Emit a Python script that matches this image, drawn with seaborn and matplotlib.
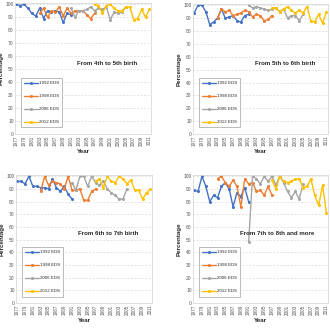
'''
percentage by birth order transition, four EDS surveys
'''

import matplotlib
matplotlib.use('Agg')
import matplotlib.pyplot as plt
import pandas as pd
import seaborn as sns

# years covered by each survey
years_1992 = list(range(1977, 1992))
years_1998 = list(range(1983, 1998))
years_2006 = list(range(1991, 2006))
years_2012 = list(range(1997, 2012))

surveys = ['1992 EDS', '1998 EDS', '2006 EDS', '2012 EDS']
colors = ['#4472C4', '#ED7D31', '#A5A5A5', '#FFC000']

titles = ['From 4th to 5th birth', 'From 5th to 6th birth',
          'From 6th to 7th birth', 'From 7th to 8th and more']

# from 4th to 5th
p1_1992 = [100, 99, 100, 97, 93, 91, 97, 89, 95, 94, 95, 94, 86, 93, 92]
p1_1998 = [93, 97, 90, 95, 94, 98, 91, 97, 93, 95, 95, 95, 92, 89, 93]
p1_2006 = [97, 90, 95, 95, 96, 98, 95, 97, 96, 98, 88, 94, 93, 94, 98]
p1_2012 = [100, 99, 93, 99, 100, 97, 95, 95, 98, 98, 88, 89, 96, 90, 96]

# from 5th to 6th
p2_1992 = [94, 100, 100, 95, 85, 87, 90, 97, 90, 91, 92, 88, 87, 92, 93]
p2_1998 = [90, 97, 95, 96, 92, 93, 94, 96, 95, 91, 93, 92, 88, 89, 92]
p2_2006 = [100, 98, 99, 98, 97, 96, 97, 98, 95, 97, 90, 92, 92, 88, 93]
p2_2012 = [98, 98, 95, 97, 99, 96, 94, 96, 94, 99, 88, 87, 93, 86, 95]

# from 6th to 7th
p3_1992 = [96, 96, 94, 100, 92, 92, 91, 91, 90, 98, 91, 88, 92, 86, 82]
p3_1998 = [88, 100, 93, 96, 95, 94, 90, 100, 89, 89, 90, 81, 81, 88, 90]
p3_2006 = [95, 89, 100, 100, 92, 100, 95, 93, 96, 90, 87, 85, 82, 82, 90]
p3_2012 = [96, 98, 91, 100, 96, 95, 100, 98, 94, 97, 89, 89, 82, 87, 90]

# from 7th to 8th and more
p4_1992 = [89, 88, 100, 92, 80, 85, 83, 92, 95, 90, 76, 87, 84, 91, 80]
p4_1998 = [98, 100, 95, 92, 97, 92, 76, 98, 94, 95, 88, 89, 85, 92, 85]
p4_2006 = [48, 100, 98, 94, 100, 96, 100, 93, 100, 95, 88, 83, 88, 82, 94]
p4_2012 = [97, 90, 100, 96, 95, 96, 98, 98, 91, 92, 98, 85, 77, 93, 71]

panels = [
    [p1_1992, p1_1998, p1_2006, p1_2012],
    [p2_1992, p2_1998, p2_2006, p2_2012],
    [p3_1992, p3_1998, p3_2006, p3_2012],
    [p4_1992, p4_1998, p4_2006, p4_2012],
]
year_lists = [years_1992, years_1998, years_2006, years_2012]

sns.set_style('white')
plt.rcParams['font.family'] = ['Liberation Sans', 'DejaVu Sans']

fig = plt.figure(figsize=(3.3, 3.3), dpi=100)

# axes boxes in pixels: left, top, right, bottom
boxes = [(15, 3, 151, 134), (193, 4, 328, 134),
         (16, 175, 152, 303), (193, 175, 328, 303)]
text_x = [0.68, 0.68, 0.68, 0.62]

for k, vals in enumerate(panels):
    l, t, r, b = boxes[k]
    ax = fig.add_axes([l / 330, 1 - b / 330, (r - l) / 330, (b - t) / 330])

    rows = []
    for s, yrs, v in zip(surveys, year_lists, vals):
        for y, p in zip(yrs, v):
            rows.append({'Year': y, 'Percentage': p, 'Survey': s})
    df = pd.DataFrame(rows)

    sns.lineplot(data=df, x='Year', y='Percentage', hue='Survey',
                 palette=colors, marker='o', markersize=2.2,
                 markeredgewidth=0, linewidth=1.0, ax=ax)

    ax.set_xlim(1976.7, 2011.4)
    ax.set_ylim(0, 101)
    ax.set_yticks(range(0, 101, 10))
    ax.set_xticks(range(1977, 2012, 2))
    ax.set_xticklabels([str(y) for y in range(1977, 2012, 2)],
                       rotation=90, fontsize=3.3, color='#555555')
    ax.tick_params(axis='y', labelsize=3.5, colors='#555555', length=0, pad=1)
    ax.tick_params(axis='x', length=0, pad=1)
    ax.grid(axis='y', linestyle=(0, (3, 2)), color='#d9d9d9', linewidth=0.5)
    for sp in ax.spines.values():
        sp.set_color('#d9d9d9')
        sp.set_linewidth(0.6)

    ax.set_xlabel('Year', fontsize=4.5, fontweight='bold', labelpad=2)
    ax.set_ylabel('Percentage', fontsize=4.5, fontweight='bold', labelpad=1)

    ax.text(text_x[k], 0.54, titles[k], transform=ax.transAxes,
            ha='center', va='center', fontsize=4.4, fontweight='bold')

    leg = ax.legend(loc='lower left', bbox_to_anchor=(0.045, 0.05),
                    fontsize=3.2, labelspacing=2.0, handlelength=3.0,
                    borderpad=0.7, handletextpad=0.3, borderaxespad=0,
                    fancybox=False, edgecolor='#a0a0a0', framealpha=1)
    leg.get_frame().set_linewidth(0.5)

fig.savefig('out.png', dpi=100)
